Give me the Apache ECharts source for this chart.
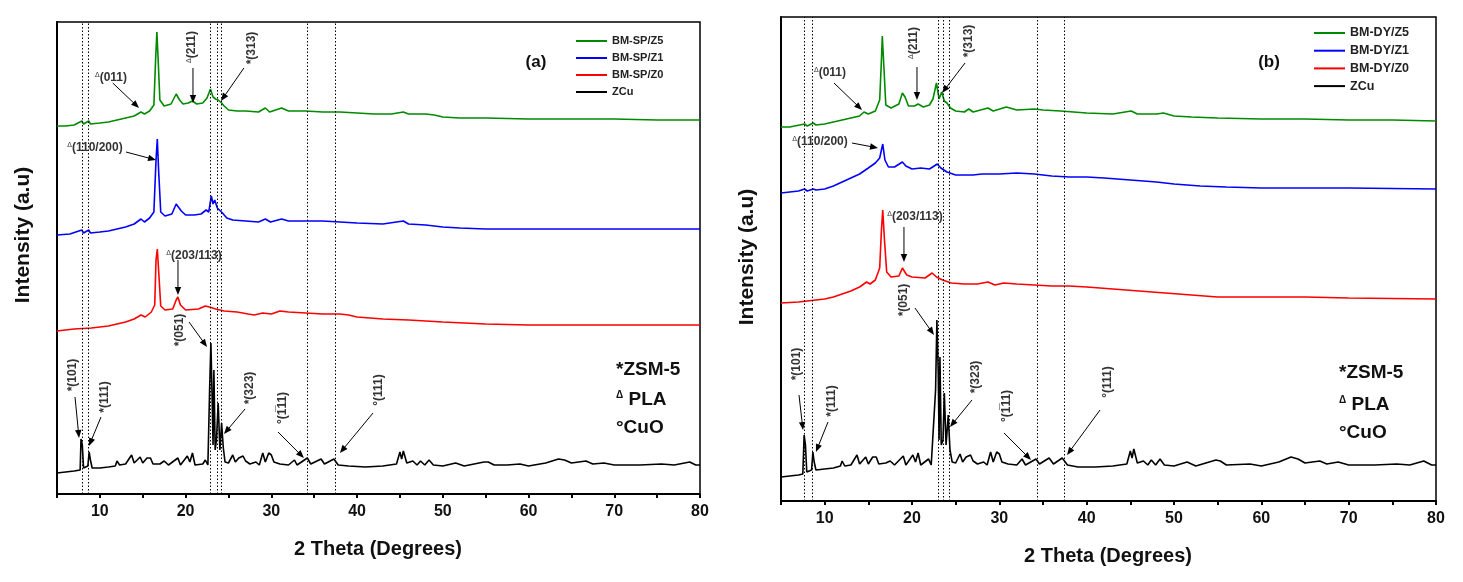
<!DOCTYPE html>
<html>
<head>
<meta charset="utf-8">
<script src="https://cdn.jsdelivr.net/npm/echarts@6/dist/echarts.min.js"></script>
<style>html,body{margin:0;padding:0;background:#fff;}#c{width:1463px;height:582px;}</style>
</head>
<body>
<div id="c"></div>
<script>
// ---------- DATA (2θ in degrees, intensity in a.u., stacked offsets as in the figure) ----------
const spZ5 = [[5,368],[6,368],[7,369],[7.9,373],[8.1,370],[8.7,373],[8.9,370],[10,371],[11,372],[12,374],[13,376],[14,378],[14.8,382],[15.2,380],[15.8,383],[16.3,389],[16.5,434],[16.65,462],[16.8,434],[17.0,394],[17.5,388],[18.3,390],[18.9,400],[19.3,394],[19.7,390],[20.3,391],[20.8,393],[21.3,390],[22.0,391],[22.5,396],[22.9,405],[23.2,397],[23.5,395],[23.8,394],[24.2,391],[24.5,388],[25,384],[26,383],[27,383],[28.5,382],[29.3,386],[29.8,382],[31.2,386],[32,383],[34,383],[36,382],[38,382],[40,381],[42,380],[44,380],[45.4,382],[46,380],[48,380],[49,379],[50,377],[52,376],[55,376],[60,375],[65,375],[70,375],[75,374],[80,374]];
const spZ1 = [[5,259],[6.5,260],[7.9,264],[8.1,261],[8.7,264],[8.9,261],[10,262],[11,263],[12,265],[13,267],[14,270],[14.8,275],[15.2,272],[15.8,276],[16.3,282],[16.55,334],[16.7,355],[16.85,324],[17.1,282],[17.6,278],[18.4,280],[18.9,290],[19.1,292],[19.5,283],[20.0,279],[21,279],[21.8,280],[22.4,284],[22.7,282],[23.0,298],[23.2,290],[23.4,294],[23.7,286],[23.9,287],[24.3,281],[24.8,276],[25.5,274],[27,273],[28.5,272],[29.3,275],[29.9,272],[31.2,275],[32,273],[34,273],[36,273],[38,272],[40,271],[43,270],[45.4,273],[46,270],[48,269],[50,267],[52,266],[55,265],[60,265],[70,265],[80,265]];
const spZ0 = [[5,163],[7,165],[9,166],[11,168],[13,172],[14,175],[14.8,179],[15.3,177],[16.0,182],[16.4,189],[16.55,234],[16.7,245],[16.85,224],[17.1,188],[17.6,184],[18.5,185],[18.9,194],[19.1,197],[19.4,189],[20,184],[21.5,185],[22.3,188],[22.8,187],[23.5,185],[24.5,183],[26,182],[27.3,180],[28,179],[29,181],[30,180],[31,183],[32,182],[34,181],[36,180],[38,180],[39,179],[40,177],[43,175],[46,174],[50,172],[55,170],[60,169],[70,169],[80,169]];
const spZCu = [[5,21],[6,22],[7,23],[7.7,24],[7.8,55],[7.95,49],[8.1,26],[8.6,28],[8.75,42],[8.9,34],[9.1,26],[10,26],[11,27],[11.8,28],[12,33],[12.3,29],[13,30],[13.7,39],[14.0,31],[14.7,37],[15.0,31],[15.5,36],[15.9,36],[16.2,30],[17,30],[17.5,33],[18,29],[19.1,36],[19.4,29],[20.2,38],[20.5,32],[20.8,41],[21.1,29],[22,30],[22.3,34],[22.6,29],[22.8,104],[22.95,151],[23.1,94],[23.2,49],[23.3,124],[23.45,44],[23.6,54],[23.8,91],[24.0,44],[24.2,71],[24.4,46],[24.6,32],[25.0,31],[25.5,39],[25.8,32],[26.2,36],[26.7,38],[27.0,33],[27.5,30],[28.2,32],[28.6,29],[29.0,41],[29.3,32],[29.7,41],[30.0,39],[30.3,32],[31,30],[32,29],[32.7,34],[33,29],[34.2,36],[34.6,30],[35.8,35],[36.2,30],[37.3,35],[37.8,29],[39,28],[41,27],[43,28],[44.6,30],[45.0,42],[45.2,35],[45.4,43],[45.8,31],[46.5,33],[47,29],[47.4,33],[47.9,29],[48.4,34],[48.9,29],[50,28],[51.5,31],[52.5,28],[54.8,32],[55.3,32],[56,29],[57.5,29],[59,30],[60,28],[62,31],[63.5,35],[64.2,34],[65,31],[66.7,33],[67.5,30],[68.8,31],[70,29],[73,29],[75.5,30],[77,29],[78.8,32],[79.5,29],[80,29]];

const dyZ5 = [[5,374],[6,374],[7.7,377],[8.0,375],[8.7,378],[9.0,376],[10,377],[11,379],[12,381],[13,383],[14,385],[14.5,389],[15.0,387],[15.8,390],[16.3,401],[16.5,441],[16.6,465],[16.8,431],[17.0,396],[17.6,393],[18.5,397],[18.9,408],[19.2,404],[19.6,395],[20.3,395],[20.7,397],[21.3,394],[22.0,396],[22.4,402],[22.8,418],[23.1,402],[23.4,409],[23.7,400],[24.0,398],[24.4,393],[25,390],[26,389],[26.5,392],[27,389],[28.7,393],[29.3,390],[30.8,394],[32,391],[34,392],[35,391],[37,390],[40,388],[43,387],[45.1,390],[45.8,387],[48,387],[48.8,388],[50,385],[52,384],[55,383],[60,382],[65,382],[70,381],[75,381],[80,380]];
const dyZ1 = [[5,308],[7,310],[7.7,312],[8,310],[8.7,312],[9,311],[10,312],[11,315],[12,319],[13,323],[14,327],[15,333],[15.8,338],[16.3,343],[16.5,351],[16.65,357],[16.9,341],[17.3,334],[18,334],[18.9,339],[19.3,335],[20,332],[21,333],[22,332],[22.9,337],[23.3,333],[24,329],[25,326],[26,326],[27,326],[28,327],[30,327],[32,328],[34,327],[36,325],[38,324],[40,324],[42,323],[45,321],[48,319],[50,317],[53,315],[56,314],[60,313],[65,313],[70,313],[80,312]];
const dyZ0 = [[5,198],[7,199],[9,201],[10,202],[11,204],[12,207],[13,210],[14,214],[14.8,219],[15.2,217],[15.8,221],[16.3,233],[16.5,271],[16.65,291],[16.85,261],[17.1,229],[17.6,224],[18.5,225],[18.9,233],[19.1,235],[19.4,226],[20,224],[21.5,223],[22.3,228],[22.8,224],[23.5,221],[24.5,218],[26,217],[27.5,217],[28.7,219],[29.5,216],[30.5,218],[32,217],[34,216],[36,215],[38,215],[40,214],[43,212],[46,210],[49,208],[52,206],[55,204],[60,204],[65,204],[70,203],[80,202]];
const dyZCu = [[5,24],[6,25],[7,26],[7.5,27],[7.65,66],[7.8,56],[7.95,29],[8.5,31],[8.65,49],[8.8,39],[9.0,31],[10,32],[11,33],[11.8,35],[12,40],[12.3,35],[13,36],[13.7,46],[14.0,37],[14.7,44],[15.0,37],[15.5,44],[15.9,44],[16.2,37],[17,38],[17.5,40],[18,36],[19.0,45],[19.3,36],[20.1,46],[20.4,39],[20.7,48],[21.0,36],[21.9,42],[22.2,36],[22.7,111],[22.85,181],[23.0,131],[23.1,61],[23.2,144],[23.35,56],[23.55,61],[23.7,108],[23.9,56],[24.15,86],[24.35,51],[24.6,39],[25.0,38],[25.5,47],[25.8,39],[26.2,44],[26.7,46],[27.0,40],[27.5,37],[28.2,39],[28.6,36],[29.0,49],[29.3,39],[29.7,49],[30.0,47],[30.3,39],[31,37],[32,36],[32.6,42],[33,36],[34.2,42],[34.6,37],[35.7,43],[36.2,37],[37.2,43],[37.8,36],[39,34],[41,34],[43,35],[44.6,37],[45.0,50],[45.2,43],[45.4,52],[45.8,38],[46.5,40],[47,36],[47.4,41],[47.9,36],[48.4,42],[48.9,36],[50,35],[51.5,39],[52.5,35],[54.8,41],[55.3,40],[56,36],[58.7,37],[60,35],[62,39],[63.4,44],[64.2,42],[65,38],[66.7,40],[67.5,37],[68.8,39],[70,36],[73,36],[75.5,37],[77,36],[78.6,40],[79.5,36],[80,36]];

// reference (dotted) peak positions, degrees
const refLinesA = [7.9, 8.7, 22.85, 23.7, 24.2, 34.2, 37.5];
const refLinesB = [7.67, 8.63, 22.95, 23.6, 24.25, 34.3, 37.4];

const namesA = ['BM-SP/Z5', 'BM-SP/Z1', 'BM-SP/Z0', 'ZCu'];
const namesB = ['BM-DY/Z5', 'BM-DY/Z1', 'BM-DY/Z0', 'ZCu'];
const phaseKeys = ['*ZSM-5', '{d|Δ} PLA', '°CuO'];

// peak annotations (text anchor and arrow in data coordinates)
const annA = [
  {t:'{d|Δ}(011)', x:11.3, y:416, r:0, a:[11.5,411,14.57,386]},
  {t:'{d|Δ}(211)', x:20.74, y:447, r:90, a:[20.86,426,20.86,391]},
  {t:'*(313)', x:27.75, y:446, r:90, a:[26.8,426,24.13,393]},
  {t:'{d|Δ}(110/200)', x:9.43, y:346, r:0, a:[13.05,342,16.55,334]},
  {t:'{d|Δ}(203/113)', x:20.98, y:238, r:0, a:[19.11,234,19.11,199]},
  {t:'*(051)', x:19.35, y:164, r:90, a:[20.4,172,22.5,147]},
  {t:'*(101)', x:6.87, y:119, r:90, a:[7.1,97,7.57,56]},
  {t:'*(111)', x:10.6, y:97, r:90, a:[10.13,77,8.73,48]},
  {t:'*(323)', x:27.5, y:106, r:90, a:[26.93,85,24.48,60]},
  {t:'°(1\u030511)', x:31.36, y:86, r:90, a:[30.78,62,33.8,36]},
  {t:'°(111)', x:42.56, y:104, r:90, a:[41.86,81,38.0,41]}
];
const annB = [
  {t:'{d|Δ}(011)', x:10.61, y:428, r:0, a:[11.07,418,14.28,391]},
  {t:'{d|Δ}(211)', x:20.23, y:458, r:90, a:[20.57,434,20.57,401]},
  {t:'*(313)', x:26.53, y:460, r:90, a:[26.07,438,23.44,408]},
  {t:'{d|Δ}(110/200)', x:9.47, y:359, r:0, a:[13.13,358,16.11,353]},
  {t:'{d|Δ}(203/113)', x:20.34, y:284, r:0, a:[19.08,274,19.08,239]},
  {t:'*(051)', x:19.08, y:201, r:90, a:[20.34,193,22.52,166]},
  {t:'*(101)', x:6.83, y:137, r:90, a:[7.06,106,7.52,71]},
  {t:'*(111)', x:10.84, y:100, r:90, a:[10.38,79,9.0,49]},
  {t:'*(323)', x:27.33, y:124, r:90, a:[26.87,101,24.35,74]},
  {t:'°(1\u030511)', x:30.88, y:95, r:90, a:[30.54,68,33.63,41]},
  {t:'°(111)', x:42.44, y:119, r:90, a:[41.53,91,37.75,46]}
];

// ---------- CHART ----------
const FONT = '"Liberation Sans", Arial, Helvetica, sans-serif';
const COLORS = ['#008a00', '#0000ff', '#ff0000', '#000000'];
const chart = echarts.init(document.getElementById('c'), null, {renderer: 'canvas'});

function xAx(i) {
  return {
    type: 'value', gridIndex: i, min: 5, max: 80, interval: 5,
    axisLine: {show: true, onZero: false, lineStyle: {color: '#000', width: 2}},
    axisTick: {show: true, length: 4, lineStyle: {color: '#000', width: 2}},
    axisLabel: {formatter: v => (v % 10 === 0 ? String(v) : ''), color: '#111', fontWeight: 'bold',
                fontSize: 16, fontFamily: FONT, margin: 10},
    splitLine: {show: false}
  };
}
function yAx(i, max) {
  return {
    type: 'value', gridIndex: i, min: 0, max: max,
    axisLine: {show: true, lineStyle: {color: '#000', width: 2}},
    axisTick: {show: false}, axisLabel: {show: false}, splitLine: {show: false}
  };
}
function ser(name, data, idx, color, refs) {
  const s = {
    name: name, type: 'line', xAxisIndex: idx, yAxisIndex: idx, data: data,
    symbol: 'none', showSymbol: false, lineStyle: {color: color, width: 1.6}, itemStyle: {color: color},
    silent: true
  };
  if (refs) {
    s.markLine = {
      symbol: ['none', 'none'], silent: true, label: {show: false},
      lineStyle: {type: [1.5, 2], color: '#000', width: 1},
      data: refs.map(v => ({xAxis: v}))
    };
  }
  return s;
}
function legendFor(names, left, top, fs, gap) {
  return {
    data: names, orient: 'vertical', left: left, top: top, itemWidth: 31, itemHeight: 2, icon: 'rect',
    itemGap: gap, padding: 0, selectedMode: false,
    textStyle: {fontSize: fs, fontWeight: 'bold', color: '#222', fontFamily: FONT, lineHeight: 14, padding: [0, 0, 0, 0]}
  };
}

const option = {
  animation: false,
  backgroundColor: '#fff',
  grid: [
    {left: 57, right: 763, top: 22, bottom: 88, show: true, borderColor: '#000', borderWidth: 1.5},
    {left: 781, right: 27, top: 17, bottom: 81, show: true, borderColor: '#000', borderWidth: 1.5}
  ],
  xAxis: [xAx(0), xAx(1)],
  yAxis: [yAx(0, 472), yAx(1, 484)],
  legend: [legendFor(namesA, 576, 34, 11, 3), legendFor(namesB, 1314, 26, 12.5, 3.7)],
  series: [
    ser(namesA[0], spZ5, 0, COLORS[0]), ser(namesA[1], spZ1, 0, COLORS[1]),
    ser(namesA[2], spZ0, 0, COLORS[2]), ser(namesA[3], spZCu, 0, COLORS[3], refLinesA),
    ser(namesB[0], dyZ5, 1, COLORS[0]), ser(namesB[1], dyZ1, 1, COLORS[1]),
    ser(namesB[2], dyZ0, 1, COLORS[2]), ser(namesB[3], dyZCu, 1, COLORS[3], refLinesB)
  ]
};
chart.setOption(option);

// ---------- ANNOTATIONS ----------
const g = [];
const RICH = {d: {fontSize: 7, verticalAlign: 'top', lineHeight: 8, fontFamily: FONT, fill: '#333'}};
function txt(x, y, text, opt) {
  opt = opt || {};
  g.push({
    type: 'text', x: x, y: y, rotation: opt.rot ? opt.rot * Math.PI / 180 : 0, silent: true, z: 100,
    style: {
      text: text, fill: opt.color || '#111', fontSize: opt.fs || 12, fontWeight: opt.fw || 'bold',
      fontFamily: FONT, align: opt.align || 'center', verticalAlign: 'middle',
      textAlign: opt.align || 'center', textVerticalAlign: 'middle', rich: opt.rich || RICH
    }
  });
}
function arrow(p0, p1) {
  const dx = p1[0] - p0[0], dy = p1[1] - p0[1];
  const len = Math.sqrt(dx * dx + dy * dy) || 1;
  const ux = dx / len, uy = dy / len, nx = -uy, ny = ux;
  const L = 8, W = 3.2;
  const bx = p1[0] - ux * L, by = p1[1] - uy * L;
  g.push({type: 'line', silent: true, z: 100,
    shape: {x1: p0[0], y1: p0[1], x2: bx + ux * 1, y2: by + uy * 1},
    style: {stroke: '#000', lineWidth: 1}});
  g.push({type: 'polygon', silent: true, z: 100,
    shape: {points: [[p1[0], p1[1]], [bx + nx * W, by + ny * W], [bx - nx * W, by - ny * W]]},
    style: {fill: '#000'}});
}
function drawAnn(list, idx) {
  const f = {xAxisIndex: idx, yAxisIndex: idx};
  list.forEach(a => {
    const p = chart.convertToPixel(f, [a.x, a.y]);
    txt(p[0], p[1], a.t, {rot: a.r, fs: 12, color: '#333'});
    const p0 = chart.convertToPixel(f, [a.a[0], a.a[1]]);
    const p1 = chart.convertToPixel(f, [a.a[2], a.a[3]]);
    arrow(p0, p1);
  });
}
drawAnn(annA, 0);
drawAnn(annB, 1);

// phase key blocks
const keyRich = {d: {fontSize: 10, verticalAlign: 'top', lineHeight: 10, fontFamily: FONT, fontWeight: 'bold', fill: '#111'}};
[[616, [370, 400, 428]], [1339, [373, 405, 433]]].forEach(k => {
  phaseKeys.forEach((t, i) => txt(k[0], k[1][i], t, {fs: 19, align: 'left', rich: keyRich}));
});

// panel labels and axis titles
txt(536, 62, '(a)', {fs: 17});
txt(1269, 62, '(b)', {fs: 17});
txt(378, 549, '2 Theta (Degrees)', {fs: 20});
txt(1108, 556, '2 Theta (Degrees)', {fs: 20});
txt(23, 235, 'Intensity (a.u)', {fs: 21, rot: 90});
txt(747, 257, 'Intensity (a.u)', {fs: 21, rot: 90});

chart.setOption({graphic: {elements: g}});
</script>
</body>
</html>
